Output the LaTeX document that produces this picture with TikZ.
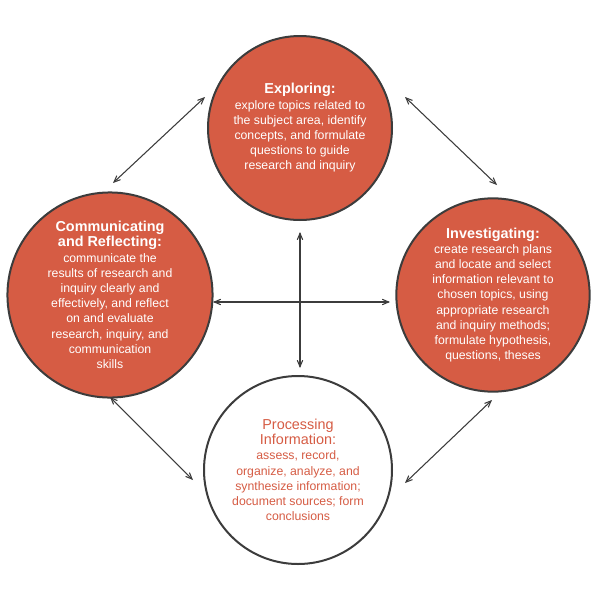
\documentclass[tikz,border=0pt]{standalone}
\usepackage{fontspec}
\setmainfont{Liberation Sans}
\usetikzlibrary{arrows}
\definecolor{brick}{RGB}{214,92,68}
\definecolor{rim}{RGB}{60,60,60}
\tikzset{
  stage/.style={circle,draw=rim,line width=1.5pt,fill=brick,text=white,align=center,font=\fontsize{9.2}{11.4}\selectfont},
  link/.style={<->,line width=0.8pt,color=rim}
}
\newcommand{\hd}{\fontsize{10.8}{12.4}\selectfont}
\begin{document}
\begin{tikzpicture}[line cap=round,line join=round,>=angle 45,x=0.75pt,y=-0.75pt]
\useasboundingbox (0,0) rectangle (600,600);
\node[stage,minimum size=138pt] (explore) at (300,128) {{\hd\bfseries Exploring:}\\explore topics related to\\the subject area, identify\\concepts, and formulate\\questions to guide\\research and inquiry};
\node[stage,minimum size=150pt] (reflect) at (110,295) {{\hd\bfseries Communicating}\\{\hd\bfseries and Reflecting:}\\communicate the\\results of research and\\inquiry clearly and\\effectively, and reflect\\on and evaluate\\research, inquiry, and\\communication\\skills};
\node[stage,minimum size=144pt] (invest) at (493,295) {{\hd\bfseries Investigating:}\\create research plans\\and locate and select\\information relevant to\\chosen topics, using\\appropriate research\\and inquiry methods;\\formulate hypothesis,\\questions, theses};
\node[stage,minimum size=141pt,fill=white,text=brick] (process) at (298,470) {{\hd Processing}\\{\hd Information:}\\assess, record,\\organize, analyze, and\\synthesize information;\\document sources; form\\conclusions};
% free ends of the links
\coordinate (tl1) at (113,183); \coordinate (tl2) at (205,97);
\coordinate (tr1) at (405,97); \coordinate (tr2) at (497,185);
\coordinate (bl1) at (110,397); \coordinate (bl2) at (193,480);
\coordinate (br1) at (405,483); \coordinate (br2) at (492,400);
\coordinate (hw) at (213,302); \coordinate (he) at (390,302);
\coordinate (vn) at (300,232); \coordinate (vs) at (300,368);
\draw[link] (tl1) -- (tl2);
\draw[link] (tr1) -- (tr2);
\draw[link] (bl1) -- (bl2);
\draw[link] (br1) -- (br2);
\draw[link] (hw) -- (he);
\draw[link] (vn) -- (vs);
\end{tikzpicture}
\end{document}
